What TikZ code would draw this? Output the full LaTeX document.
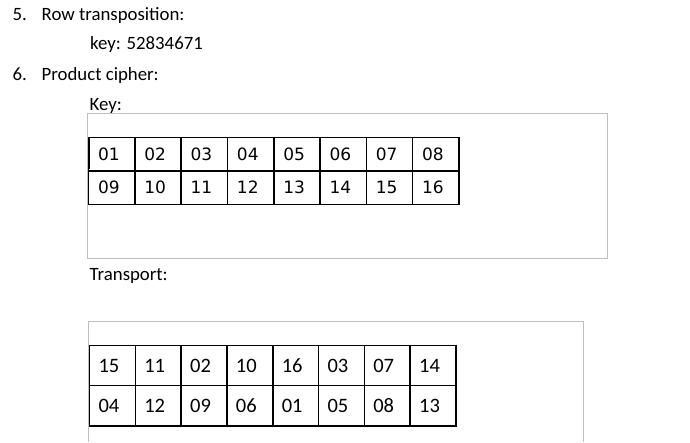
\documentclass[tikz,border=0pt]{standalone}
\usepackage{fontspec}
\setmainfont{Carlito}
\newfontfamily\dejavu{DejaVu Sans}
\definecolor{boxgray}{HTML}{BFBFBF}
\begin{document}
\begin{tikzpicture}[x=1pt,y=-1pt,
  txt/.style={anchor=base west,inner sep=0pt,font=\fontsize{18.8}{22}\selectfont},
  frame/.style={draw=boxgray,line width=1pt},
  keycell/.style={draw=black,line width=1.5pt,anchor=north west,minimum width=46.3pt,minimum height=33.3pt,
     text width=27.3pt,inner xsep=9.5pt,inner ysep=0pt,align=left,text height=12.4pt,text depth=0pt,
     font=\dejavu\fontsize{17}{19}\selectfont},
  trcell/.style={draw=black,line width=1.5pt,anchor=north west,minimum width=45.8pt,minimum height=40.3pt,
     text width=27.8pt,inner xsep=9pt,inner ysep=0pt,align=left,text height=13pt,text depth=0pt,
     font=\fontsize{20.5}{22}\selectfont}]
\useasboundingbox (0,0) rectangle (690,442);
\node[txt] (n5) at (12.5,20.7) {5.};
\node[txt] (t5) at (41.5,20.7) {Row transposition:};
\node[txt] (k5) at (90,49.3) {key: 52834671};
\node[txt] (n6) at (12.5,80.5) {6.};
\node[txt] (t6) at (41.5,80.5) {Product cipher:};
\node[txt] (keyl) at (89.5,110.5) {Key:};
\node[txt] (trl) at (89.5,280) {Transport:};
% key frame
\draw[frame] (87.5,113.5) rectangle (607.5,258.5);
% transport frame
\draw[frame] (88.5,442) -- (88.5,321.5) -- (583.5,321.5) -- (583.5,442);
% key table
\foreach \v [count=\i from 0] in {01,02,03,04,05,06,07,08}
  \node[keycell] (ka\i) at ({87.8+46.3*\i},136.9) {\v};
\foreach \v [count=\i from 0] in {09,10,11,12,13,14,15,16}
  \node[keycell] (kb\i) at ({87.8+46.3*\i},170.2) {\v};
\draw[line width=0.8pt] ([xshift=2pt,yshift=-1pt]ka0.north west) coordinate (c1) -- ([xshift=2pt,yshift=3pt]ka0.south west) coordinate (c2);
% transport table
\foreach \v [count=\i from 0] in {15,11,02,10,16,03,07,14}
  \node[trcell] (ta\i) at ({88.8+45.8*\i},344.6) {\v};
\foreach \v [count=\i from 0] in {04,12,09,06,01,05,08,13}
  \node[trcell] (tb\i) at ({88.8+45.8*\i},384.9) {\v};
\end{tikzpicture}
\end{document}
